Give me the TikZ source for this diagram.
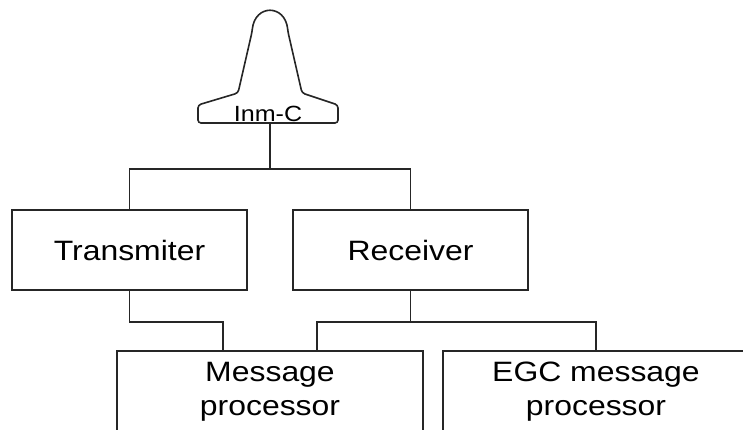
\documentclass[tikz,border=0pt]{standalone}
\usepackage{fontspec}
\setmainfont{Liberation Sans}[FakeStretch=1.14]
\tikzset{
  unit/.style={draw=black!85,line width=1.6pt,minimum width=235pt,minimum height=80pt,inner sep=0pt,font=\fontsize{28}{34}\selectfont},
  wide/.style={unit,minimum width=306pt,minimum height=81pt,align=center},
  wire/.style={draw=black!85,line width=1.6pt}
}
\begin{document}
\begin{tikzpicture}[x=1pt,y=-1pt]
            \useasboundingbox (0,0) rectangle (743,430);
            \clip (0,0) rectangle (743,430);
            % antenna
            \draw[wire,rounded corners=3pt] (198,123) -- (198,105) -- (238,93) -- (252,32)
              .. controls (255,4) and (285,4) .. (288,32) -- (302,93) -- (338,105) -- (338,123) -- cycle;
            \node[font=\fontsize{22}{24}\selectfont] (ant) at (268,114) {Inm-C};
            \coordinate (antbase) at (270,123);
            \coordinate (split) at (270,169);
            % units
            \node[unit] (tx) at (129.5,250) {Transmiter};
            \node[unit] (rx) at (410.5,250) {Receiver};
            \node[wide] (msg) at (270,391.5) {Message\\processor};
            \node[wide] (egc) at (596,391.5) {EGC message\\processor};
            % wiring
            \draw[wire] (antbase) -- (split);
            \draw[wire] (tx.north) |- (split) -| (rx.north);
            \draw[wire] (tx.south) -- ++(0,31) -| ([xshift=-47pt]msg.north);
            \draw[wire] (rx.south) -- ++(0,31) coordinate (rxsplit);
            \draw[wire] ([xshift=47pt]msg.north) |- (rxsplit) -| (egc.north);
        \end{tikzpicture}
\end{document}
